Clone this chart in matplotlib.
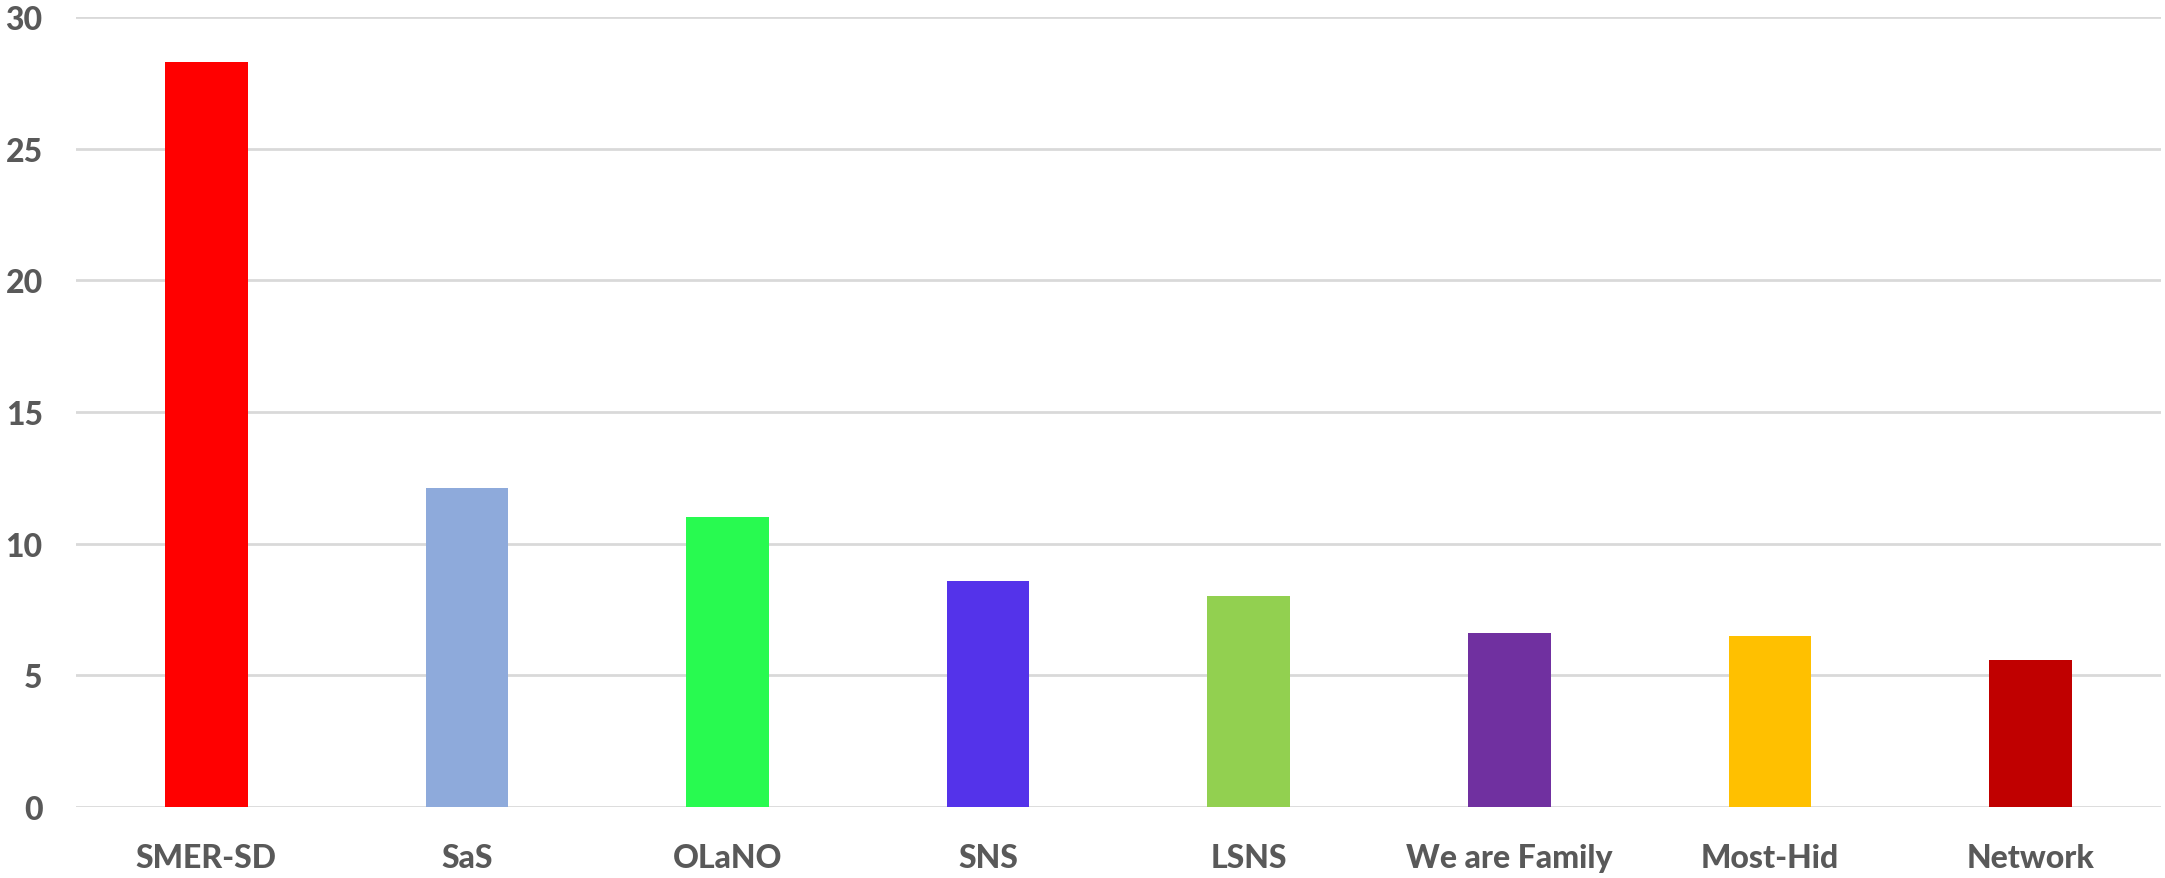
import matplotlib.pyplot as plt
import numpy as np

parties = ["SMER-SD", "SaS", "OLaNO", "SNS", "LSNS", "We are Family", "Most-Hid", "Network"]
support = [28.3, 12.1, 11.0, 8.6, 8.0, 6.6, 6.5, 5.6]
colors = ["#ff0000", "#8eaadb", "#28fa50", "#5433ea", "#92d050", "#7030a0", "#ffc000", "#c00000"]
y_ticks = [0, 5, 10, 15, 20, 25, 30]

plt.rcParams["font.family"] = ["Lato", "DejaVu Sans"]

fig = plt.figure(figsize=(21.65, 8.79), dpi=100)
ax = fig.add_axes([0.0351, 0.0808, 0.963, 0.8987])

x = np.arange(len(parties))
ax.bar(x, support, width=0.317, color=colors, zorder=3)

ax.set_xlim(-0.5, len(parties) - 0.5)
ax.set_ylim(0, 30)
ax.set_yticks(y_ticks)
ax.set_xticks(x)
ax.set_xticklabels(parties)

ax.grid(axis="y", color="#d9d9d9", linewidth=2, zorder=0)
ax.set_axisbelow(True)
for s in ax.spines.values():
    s.set_visible(False)

ax.tick_params(axis="both", length=0, labelsize=23, labelcolor="#595959")
ax.tick_params(axis="x", pad=26)
ax.tick_params(axis="y", pad=24)
for lbl in ax.get_xticklabels() + ax.get_yticklabels():
    lbl.set_fontweight("black")

fig.savefig("out.png", dpi=100)
